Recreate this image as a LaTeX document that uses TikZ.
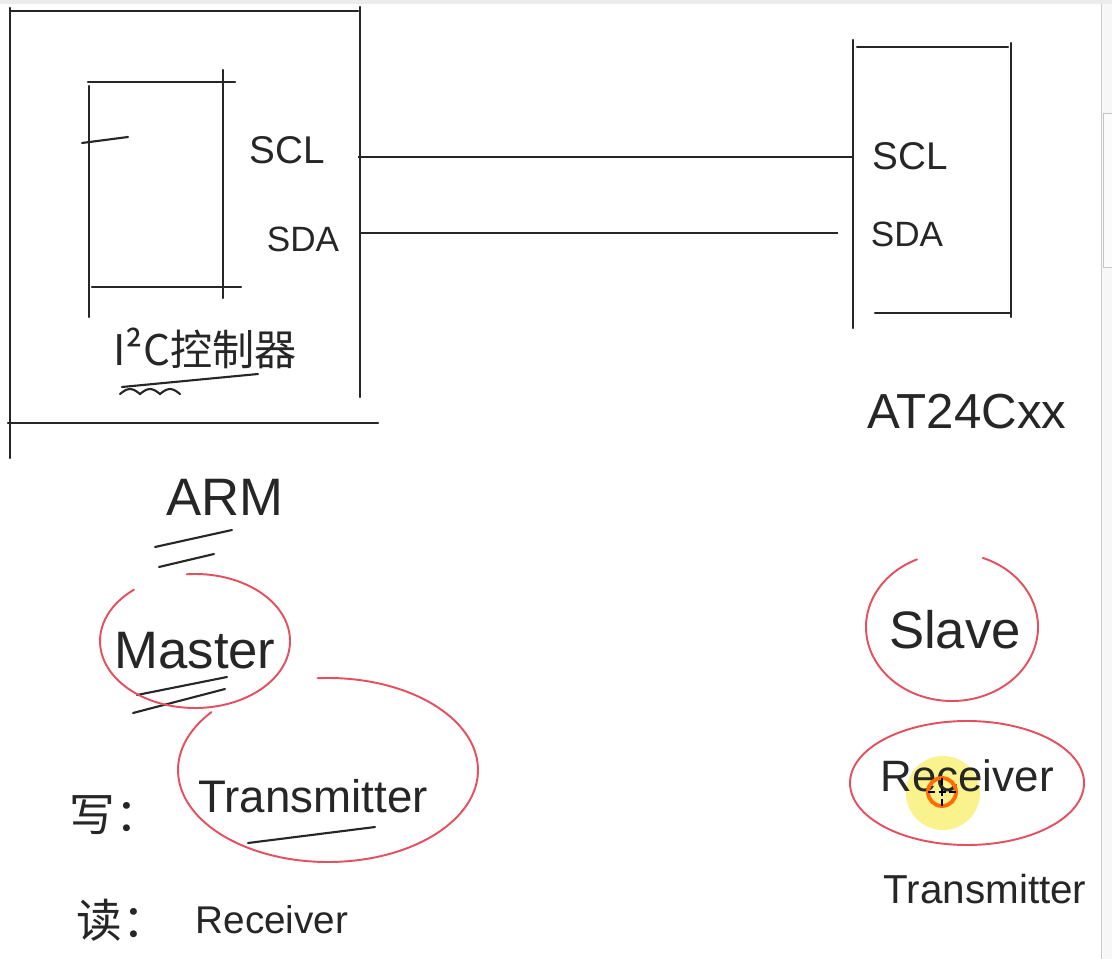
\documentclass[tikz,border=0pt]{standalone}
\usepackage{fontspec}
\setmainfont{Liberation Sans}
\newfontfamily\cjk{Noto Sans CJK SC}
\usepackage{tikz}
\usetikzlibrary{positioning, calc}
\definecolor{ink}{RGB}{38,38,38}
\definecolor{redpen}{RGB}{228,80,96}
\definecolor{marker}{RGB}{250,240,120}

\begin{document}
\begin{tikzpicture}[
      x=0.02cm, y=-0.02cm,
      pen/.style={draw=ink, line width=1.2pt, line cap=round},
      bus/.style={draw=ink, line width=1.1pt},
      ring/.style={draw=redpen, line width=1.1pt, line cap=round},
      hand/.style={text=ink, inner sep=0pt, font=\fontsize{#1pt}{#1pt}\selectfont}
    ]
    \fill[white] (0,0) rectangle (1112,959);
    \useasboundingbox (0,0) rectangle (1112,959);
    % window edges
    \fill[gray!15] (0,0) rectangle (1112,4);
    \fill[gray!6] (1101,4) rectangle (1112,959);
    \draw[gray!40] (1101,4) -- (1101,959);
    \draw[gray!45, fill=gray!3] (1103,113) rectangle (1112,267);

    % ARM board
    \draw[pen] (10,11) -- (358,11);
    \draw[pen] (10,8) -- (10,458);
    \draw[pen] (360,7) -- (360,397);
    \draw[pen] (8,423) -- (378,423);
    % controller block
    \draw[pen] (88,82) -- (235,82);
    \draw[pen] (89,86) -- (89,317);
    \draw[pen] (223,70) -- (223,298);
    \draw[pen] (92,287) -- (241,287);
    \draw[pen] (82,143) -- (128,137);

    % AT24 chip
    \draw[pen] (853,40) -- (853,328);
    \draw[pen] (857,47) -- (1008,47);
    \draw[pen] (1011,43) -- (1011,317);
    \draw[pen] (875,313) -- (1011,313);

    \node[hand=22] (sclL) at (287,150) {SCL};
    \node[hand=20] (sdaL) at (303,239) {SDA};
    \node[hand=22] (sclR) at (910,156) {SCL};
    \node[hand=20] (sdaR) at (907,234) {SDA};
    \node[hand=24] (ctrl) at (205,348) {\cjk I²C控制器};
    \node[hand=28] (at24) at (967,412) {AT24Cxx};

    % bus lines
    \coordinate (armscl) at (358,157);
    \coordinate (armsda) at (360,233);
    \coordinate (atscl) at (853,157);
    \coordinate (atsda) at (838,233);
    \draw[bus] (armscl) -- (atscl);
    \draw[bus] (armsda) -- (atsda);

    % underline of controller
    \draw[pen] (122,387) -- (258,374);
    \draw[pen] (120,394) sin (130,389) cos (140,394) sin (150,389) cos (160,394) sin (170,389) cos (180,394);

    % master side
    \node[hand=30] (arm) at (225,497) {ARM};
    \draw[pen] (155,547) -- (232,530);
    \draw[pen] (159,567) -- (214,554);
    \node[hand=30] (master) at (195,651) {Master};
    \draw[pen] (137,695) -- (227,677);
    \draw[pen] (133,713) -- (225,689);
    \draw[ring] ([shift={(-95:95 and 67)}]195,641) arc[start angle=-95, end angle=230, x radius=95, y radius=67];

    \node[hand=26] (xie) at (115,815) {\cjk 写：};
    \node[hand=26] (txL) at (313,796) {Transmitter};
    \draw[pen] (248,843) -- (375,827);
    \draw[ring] ([shift={(-94:150 and 92)}]328,770) arc[start angle=-94, end angle=219, x radius=150, y radius=92];

    \node[hand=26] (du) at (122,920) {\cjk 读：};
    \node[hand=22] (rxL) at (272,920) {Receiver};

    % slave side
    \node[hand=30] (slave) at (955,630) {Slave};
    \draw[ring] ([shift={(-69:86 and 74)}]952,627) arc[start angle=-69, end angle=246, x radius=86, y radius=74];

    \fill[marker, opacity=0.85] (943,793) circle[radius=37];
    \node[hand=25] (rxR) at (967,776) {Receiver};
    \draw[ring] (967,783) ellipse[x radius=117, y radius=62];
    \draw[orange!85!red, line width=2.2pt] (942,792) circle[radius=14];
    \draw[black, line width=0.8pt, dash pattern=on 4pt off 2pt] (942,778) -- (942,806) (928,792) -- (956,792);

    \node[hand=23] (txR) at (985,889) {Transmitter};
\end{tikzpicture}
\end{document}
